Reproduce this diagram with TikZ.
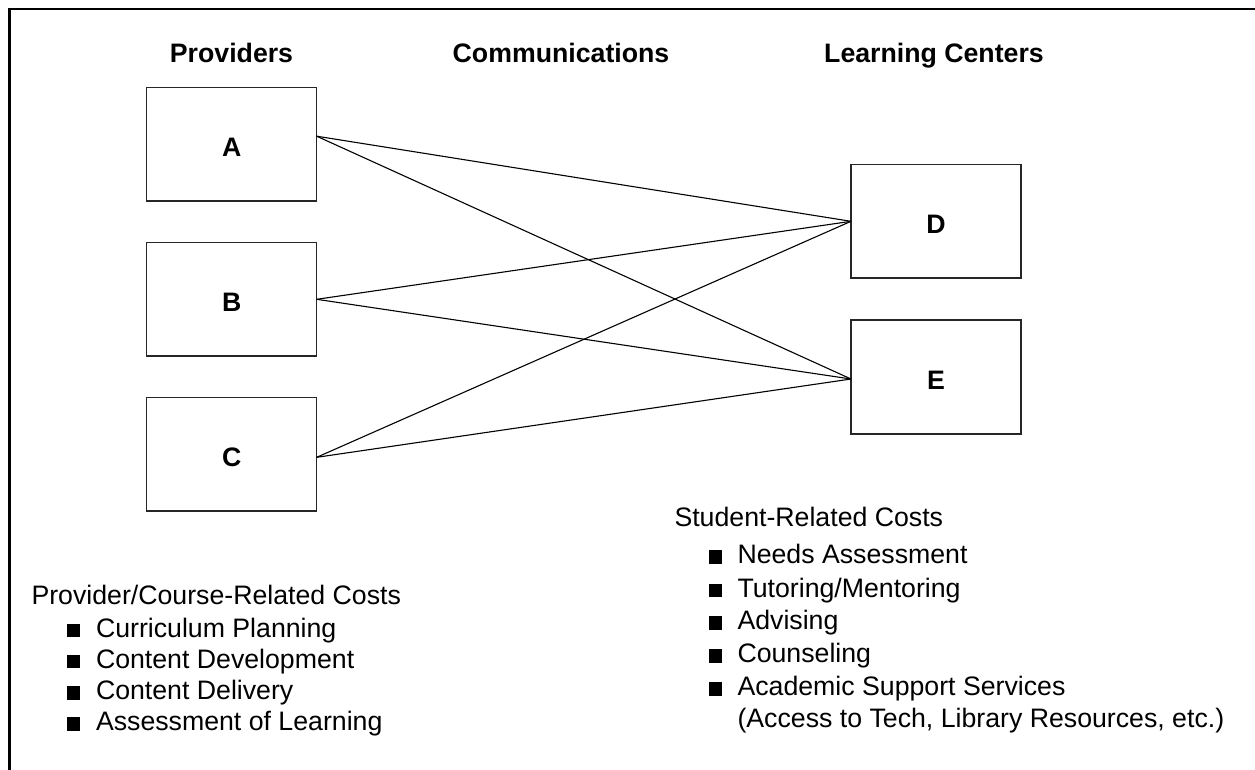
\documentclass[tikz,border=0pt]{standalone}
\usepackage{fontspec}
\setmainfont{Liberation Sans}
\begin{document}
\begin{tikzpicture}[x=1pt,y=-1pt,
  every node/.style={font=\fontsize{26.7}{32}\selectfont, inner sep=0pt, outer sep=0pt},
  head/.style={font=\fontsize{26.7}{32}\selectfont\bfseries, anchor=base},
  box/.style={draw=black!85, line width=1.4pt, minimum width=170pt, minimum height=113.7pt,
    font=\fontsize{26.7}{32}\selectfont\bfseries, text height=24.1pt, text depth=0pt},
  conn/.style={line width=1.1pt, black},
  item/.style={anchor=base west},
  bul/.style={fill=black, minimum width=13.4pt, minimum height=13.4pt, anchor=south west}]

% page area and outer frame
\path[use as bounding box, clip] (0,0) rectangle (1255,769);
\draw[line width=2.3pt] (9.5,9) rectangle (1275,790);

% column headings
\node[head] (hprov) at (231.5,62.5) {Providers};
\node[head] (hcomm) at (561,62.5) {Communications};
\node[head] (hlearn) at (934,62.5) {Learning Centers};

% providers
\node[box] (A) at (231.7,144.2) {A};
\node[box] (B) at (231.7,299.3) {B};
\node[box] (C) at (231.7,454.3) {C};

% learning centers
\node[box] (D) at (936,221.3) {D};
\node[box] (E) at (936,377) {E};

% connection points
\coordinate (pA) at ([yshift=8pt]A.east);
\coordinate (pB) at (B.east);
\coordinate (pC) at ([yshift=-3pt]C.east);
\coordinate (pD) at (D.west);
\coordinate (pE) at ([yshift=-2pt]E.west);

% communication links
\draw[conn] (pA) -- (pD);
\draw[conn] (pA) -- (pE);
\draw[conn] (pB) -- (pD);
\draw[conn] (pB) -- (pE);
\draw[conn] (pC) -- (pD);
\draw[conn] (pC) -- (pE);

% provider-side costs
\node[item] (lhead) at (31.5,604) {Provider/Course-Related Costs};
\node[bul] (lb1) at (66.7,637.3) {};
\node[item] (l1) at (96,637.3) {Curriculum Planning};
\node[bul] (lb2) at (66.7,668.3) {};
\node[item] (l2) at (96,668.3) {Content Development};
\node[bul] (lb3) at (66.7,699.5) {};
\node[item] (l3) at (96,699.5) {Content Delivery};
\node[bul] (lb4) at (66.7,730.7) {};
\node[item] (l4) at (96,730.7) {Assessment of Learning};

% student-side costs
\node[item] (rhead) at (674.5,526) {Student-Related Costs};
\node[bul] (rb1) at (709,563.5) {};
\node[item] (r1) at (737.5,563.5) {Needs Assessment};
\node[bul] (rb2) at (709,597) {};
\node[item] (r2) at (737.5,597) {Tutoring/Mentoring};
\node[bul] (rb3) at (709,629.5) {};
\node[item] (r3) at (737.5,629.5) {Advising};
\node[bul] (rb4) at (709,662.5) {};
\node[item] (r4) at (737.5,662.5) {Counseling};
\node[bul] (rb5) at (709,695.5) {};
\node[item] (r5) at (737.5,695.5) {Academic Support Services};
\node[item] (r6) at (737.5,727.5) {(Access to Tech, Library Resources, etc.)};
\end{tikzpicture}
\end{document}
